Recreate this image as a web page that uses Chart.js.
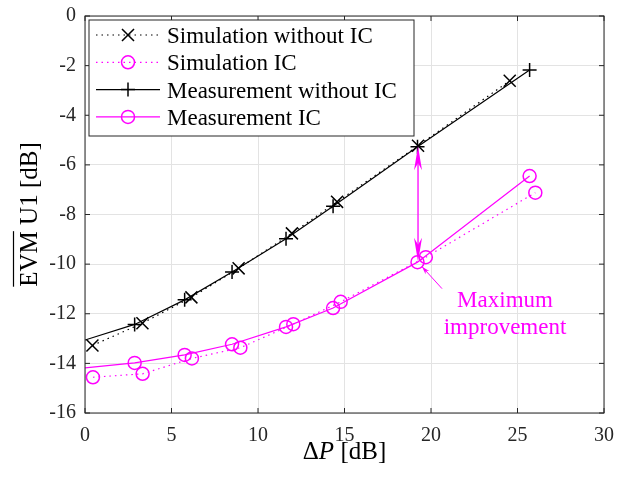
<!DOCTYPE html>
<html>
<head>
<meta charset="utf-8">
<script src="https://cdn.jsdelivr.net/npm/chart.js@4.4.1/dist/chart.umd.min.js"></script>
<style>
  html, body { margin: 0; padding: 0; background: #fff; }
  #wrap { width: 618px; height: 480px; position: relative; }
</style>
</head>
<body>
<div id="wrap"><canvas id="evmChart"></canvas></div>
<script>
// EVM of user 1 versus power difference, with and without interference cancellation
const measX      = [0, 2.87, 5.76, 8.5, 11.62, 14.34, 19.22, 25.7];
const measNoIcY  = [-13.06, -12.43, -11.44, -10.32, -8.98, -7.67, -5.27, -2.18];
const measIcY    = [-14.18, -13.98, -13.66, -13.23, -12.53, -11.77, -9.92, -6.45];
const simNoIcX   = [0.43, 3.32, 6.15, 8.88, 11.96, 14.57, 19.25, 24.55];
const simNoIcY   = [-13.28, -12.38, -11.34, -10.17, -8.76, -7.49, -5.23, -2.61];
const simIcX     = [0.46, 3.33, 6.18, 8.98, 12.04, 14.78, 19.7, 26.03];
const simIcY     = [-14.56, -14.42, -13.8, -13.37, -12.42, -11.52, -9.72, -7.12];

const seriesNames = ['Simulation without IC', 'Simulation IC', 'Measurement without IC', 'Measurement IC'];
const xTicks = [0, 5, 10, 15, 20, 25, 30];
const yTicks = [-16, -14, -12, -10, -8, -6, -4, -2, 0];

// improvement arrow (dB values at the 19 dB point)
const arrowX = 19.25;
const arrowFrom = -5.25;
const arrowTo = -9.9;
const noteText = ['Maximum', 'improvement'];

const MAGENTA = '#ff00ff';
const AXIS = '#262626';
const GRID = '#e3e3e3';
const SERIF = "'Liberation Serif', 'DejaVu Serif', serif";

const pts = (xs, ys) => xs.map((x, i) => ({ x: x, y: ys[i] }));

const datasets = [
  {
    label: seriesNames[0],
    data: pts(simNoIcX, simNoIcY),
    borderColor: '#000', borderWidth: 1.2, borderDash: [1.5, 4],
    pointStyle: 'crossRot', pointRadius: 8.5, pointBorderWidth: 1.5,
    pointBorderColor: '#000', pointBackgroundColor: 'rgba(0,0,0,0)'
  },
  {
    label: seriesNames[1],
    data: pts(simIcX, simIcY),
    borderColor: MAGENTA, borderWidth: 1.2, borderDash: [1.5, 4],
    pointStyle: 'circle', pointRadius: 6.5, pointBorderWidth: 1.5,
    pointBorderColor: MAGENTA, pointBackgroundColor: 'rgba(0,0,0,0)'
  },
  {
    label: seriesNames[2],
    data: pts(measX, measNoIcY),
    borderColor: '#000', borderWidth: 1.2,
    pointStyle: 'cross', pointRadius: ctx => ctx.dataIndex === 0 ? 0 : 7, pointBorderWidth: 1.5,
    pointBorderColor: '#000', pointBackgroundColor: 'rgba(0,0,0,0)'
  },
  {
    label: seriesNames[3],
    data: pts(measX, measIcY),
    borderColor: MAGENTA, borderWidth: 1.2,
    pointStyle: 'circle', pointRadius: ctx => ctx.dataIndex === 0 ? 0 : 6.5, pointBorderWidth: 1.5,
    pointBorderColor: MAGENTA, pointBackgroundColor: 'rgba(0,0,0,0)'
  }
];

function arrowHead(ctx, tx, ty, angle, len, half) {
  ctx.save();
  ctx.translate(tx, ty);
  ctx.rotate(angle);
  ctx.beginPath();
  ctx.moveTo(0, 0);
  ctx.lineTo(-len, -half);
  ctx.lineTo(-len * 0.7, 0);
  ctx.lineTo(-len, half);
  ctx.closePath();
  ctx.fill();
  ctx.restore();
}

// box outline, inward tick marks, legend, annotations and axis titles
const decorations = {
  id: 'decorations',
  afterDatasetsDraw(chart) {
    const { ctx, chartArea: a, scales } = chart;
    const xs = scales.x, ys = scales.y;

    // box and ticks
    ctx.save();
    ctx.strokeStyle = AXIS;
    ctx.lineWidth = 1;
    ctx.strokeRect(a.left, a.top, a.right - a.left, a.bottom - a.top);
    const tl = 5;
    ctx.beginPath();
    xTicks.forEach(v => {
      const px = xs.getPixelForValue(v);
      ctx.moveTo(px, a.bottom); ctx.lineTo(px, a.bottom - tl);
      ctx.moveTo(px, a.top); ctx.lineTo(px, a.top + tl);
    });
    yTicks.forEach(v => {
      const py = ys.getPixelForValue(v);
      ctx.moveTo(a.left, py); ctx.lineTo(a.left + tl, py);
      ctx.moveTo(a.right, py); ctx.lineTo(a.right - tl, py);
    });
    ctx.stroke();
    ctx.restore();

    // double arrow between the two measurement curves
    const ax = xs.getPixelForValue(arrowX);
    const ay1 = ys.getPixelForValue(arrowFrom);
    const ay2 = ys.getPixelForValue(arrowTo);
    ctx.save();
    ctx.strokeStyle = MAGENTA;
    ctx.fillStyle = MAGENTA;
    ctx.lineWidth = 1.3;
    ctx.beginPath();
    ctx.moveTo(ax, ay1 + 10);
    ctx.lineTo(ax, ay2 - 10);
    ctx.stroke();
    arrowHead(ctx, ax, ay1, -Math.PI / 2, 24, 4);
    arrowHead(ctx, ax, ay2, Math.PI / 2, 24, 4);

    // text arrow for the note
    const tipX = ax + 4, tipY = ay2 + 5;
    const tailX = tipX + 20, tailY = tipY + 22;
    ctx.lineWidth = 1;
    ctx.beginPath();
    ctx.moveTo(tailX, tailY);
    ctx.lineTo(tipX, tipY);
    ctx.stroke();
    arrowHead(ctx, tipX, tipY, Math.atan2(tipY - tailY, tipX - tailX), 8, 2.5);

    ctx.font = '23px ' + SERIF;
    ctx.textAlign = 'center';
    ctx.textBaseline = 'middle';
    ctx.fillText(noteText[0], tailX + 63, tailY + 12);
    ctx.fillText(noteText[1], tailX + 63, tailY + 39);
    ctx.restore();
  },
  afterDraw(chart) {
    const { ctx, chartArea: a } = chart;

    // legend box in the upper left corner
    const bx = a.left + 4, by = a.top + 4, bw = 325, bh = 116;
    ctx.save();
    ctx.fillStyle = '#fff';
    ctx.fillRect(bx, by, bw, bh);
    ctx.strokeStyle = AXIS;
    ctx.lineWidth = 1;
    ctx.strokeRect(bx, by, bw, bh);
    chart.data.datasets.forEach((ds, i) => {
      const ry = by + 15 + i * 27.3;
      ctx.save();
      ctx.strokeStyle = ds.borderColor;
      ctx.lineWidth = ds.borderWidth;
      ctx.setLineDash(ds.borderDash || []);
      ctx.beginPath();
      ctx.moveTo(bx + 7, ry);
      ctx.lineTo(bx + 71, ry);
      ctx.stroke();
      ctx.setLineDash([]);
      ctx.strokeStyle = ds.pointBorderColor;
      ctx.fillStyle = 'rgba(0,0,0,0)';
      ctx.lineWidth = ds.pointBorderWidth;
      const r = typeof ds.pointRadius === 'number' ? ds.pointRadius : (ds.pointStyle === 'cross' ? 7 : 6.5);
      Chart.helpers.drawPoint(ctx, { pointStyle: ds.pointStyle, radius: r, rotation: 0, borderWidth: ds.pointBorderWidth }, bx + 39, ry);
      ctx.restore();
      ctx.fillStyle = '#000';
      ctx.font = '23px ' + SERIF;
      ctx.textAlign = 'left';
      ctx.textBaseline = 'alphabetic';
      ctx.fillText(ds.label, bx + 78, ry + 8);
    });
    ctx.restore();

    // x axis title: ΔP [dB] with italic P
    ctx.save();
    ctx.fillStyle = '#000';
    ctx.textBaseline = 'alphabetic';
    const upright = '25px ' + SERIF, slanted = 'italic 25px ' + SERIF;
    const parts = [['\u0394', upright], ['P', slanted], [' [dB]', upright]];
    let total = 0;
    parts.forEach(p => { ctx.font = p[1]; total += ctx.measureText(p[0]).width; });
    let cx = (a.left + a.right) / 2 - total / 2;
    parts.forEach(p => {
      ctx.font = p[1];
      ctx.fillText(p[0], cx, 459);
      cx += ctx.measureText(p[0]).width;
    });
    ctx.restore();

    // y axis title: EVM with overline, then U1 [dB]
    ctx.save();
    ctx.translate(37, (a.top + a.bottom) / 2);
    ctx.rotate(-Math.PI / 2);
    ctx.font = upright;
    ctx.fillStyle = '#000';
    ctx.textBaseline = 'alphabetic';
    const full = 'EVM U1 [dB]';
    const w = ctx.measureText(full).width;
    const we = ctx.measureText('EVM').width;
    ctx.fillText(full, -w / 2, 0);
    ctx.strokeStyle = '#000';
    ctx.lineWidth = 1.2;
    ctx.beginPath();
    ctx.moveTo(-w / 2, -23.5);
    ctx.lineTo(-w / 2 + we, -23.5);
    ctx.stroke();
    ctx.restore();
  }
};

new Chart(document.getElementById('evmChart'), {
  type: 'scatter',
  data: { datasets: datasets.map(d => Object.assign({ showLine: true, tension: 0, fill: false }, d)) },
  options: {
    responsive: true,
    maintainAspectRatio: false,
    animation: false,
    layout: { padding: { top: 16, right: 14, left: 0, bottom: 0 } },
    plugins: { legend: { display: false }, tooltip: { enabled: false } },
    scales: {
      x: {
        type: 'linear', min: 0, max: 30,
        afterBuildTicks: s => { s.ticks = xTicks.map(v => ({ value: v })); },
        afterFit: s => { s.height = 67; s.paddingLeft = 0; s.paddingRight = 0; },
        grid: { color: GRID, drawTicks: false, lineWidth: 1 },
        border: { display: false },
        ticks: { color: AXIS, font: { family: SERIF, size: 20 }, padding: 11, maxRotation: 0 }
      },
      y: {
        type: 'linear', min: -16, max: 0,
        afterBuildTicks: s => { s.ticks = yTicks.map(v => ({ value: v })); },
        afterFit: s => { s.width = 85; s.paddingTop = 0; s.paddingBottom = 0; },
        grid: { color: GRID, drawTicks: false, lineWidth: 1 },
        border: { display: false },
        ticks: { color: AXIS, font: { family: SERIF, size: 20 }, padding: 9 }
      }
    }
  },
  plugins: [decorations]
});
</script>
</body>
</html>
